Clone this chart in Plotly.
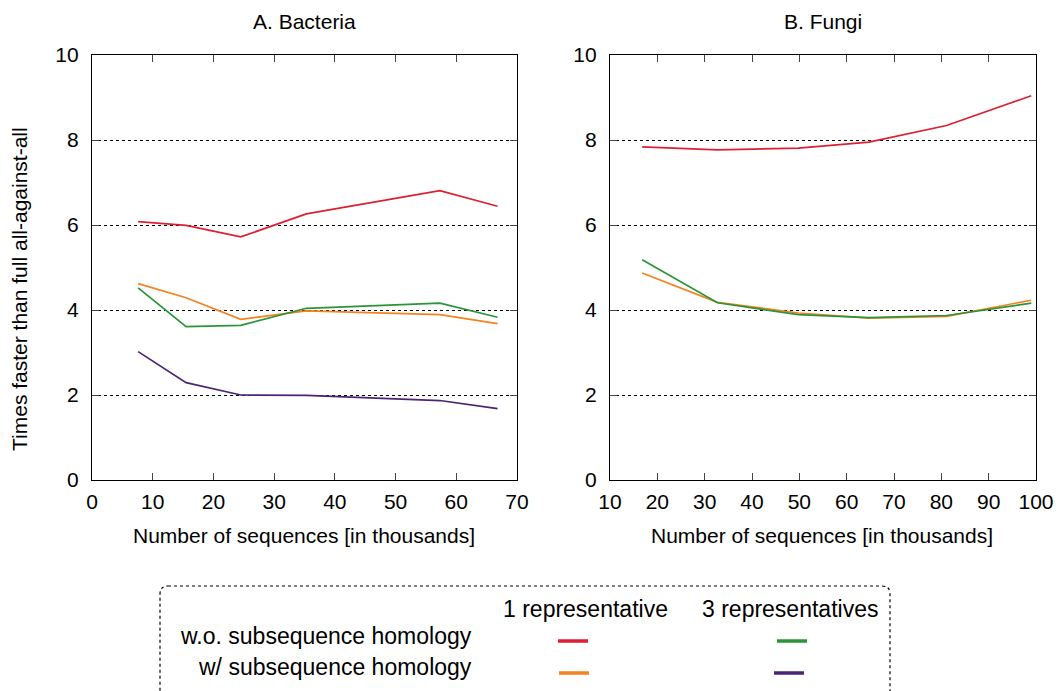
import plotly.graph_objects as go

# ---- data ----
bact_x = [7.6, 15.5, 24.5, 35.3, 57.3, 66.8]
bact_wo_1rep = [6.08, 5.99, 5.72, 6.26, 6.81, 6.44]
bact_wo_3rep = [4.52, 3.61, 3.64, 4.04, 4.16, 3.83]
bact_w_1rep = [4.62, 4.29, 3.78, 3.98, 3.89, 3.68]
bact_w_3rep = [3.02, 2.29, 2.00, 1.99, 1.87, 1.68]

fungi_x = [16.8, 32.7, 49.8, 64.7, 81.1, 99.0]
fungi_wo_1rep = [7.84, 7.77, 7.81, 7.95, 8.34, 9.04]
fungi_wo_3rep = [5.18, 4.17, 3.89, 3.82, 3.87, 4.16]
fungi_w_1rep = [4.87, 4.18, 3.93, 3.81, 3.85, 4.23]

panel_titles = ["A. Bacteria", "B. Fungi"]
x_title = "Number of sequences [in thousands]"
y_title = "Times faster than full all-against-all"
col_headers = ["1 representative", "3 representatives"]
row_headers = ["w.o. subsequence homology", "w/ subsequence homology"]

RED = "#dc1f32"
ORANGE = "#f7801f"
GREEN = "#2a9438"
PURPLE = "#4a2574"

FONT = "Liberation Sans, Arial, sans-serif"
FS = 21
LFS = 23
W, H = 1058, 691

fig = go.Figure()

def add(x, y, color, xa, ya):
    fig.add_trace(go.Scatter(x=x, y=y, mode="lines", xaxis=xa, yaxis=ya,
                             line=dict(color=color, width=1.7), showlegend=False,
                             hoverinfo="skip"))

add(bact_x, bact_wo_1rep, RED, "x", "y")
add(bact_x, bact_w_1rep, ORANGE, "x", "y")
add(bact_x, bact_wo_3rep, GREEN, "x", "y")
add(bact_x, bact_w_3rep, PURPLE, "x", "y")
add(fungi_x, fungi_wo_1rep, RED, "x2", "y2")
add(fungi_x, fungi_w_1rep, ORANGE, "x2", "y2")
add(fungi_x, fungi_wo_3rep, GREEN, "x2", "y2")

def px(v):
    return v / W

def py(v):
    return 1 - v / H

ydom = [py(480), py(55)]
axis_common = dict(showline=True, linecolor="black", linewidth=1.2, mirror="ticks",
                   ticks="inside", ticklen=7, tickcolor="#444", tickwidth=1.2,
                   tickfont=dict(family=FONT, size=FS, color="black"),
                   zeroline=False, automargin=False)

fig.update_layout(
    width=W, height=H,
    margin=dict(l=0, r=0, t=0, b=0),
    paper_bgcolor="white", plot_bgcolor="white",
    xaxis=dict(domain=[px(92), px(517)], range=[0, 70], dtick=10, showgrid=False,
               anchor="y", ticklabelstandoff=3, **axis_common),
    yaxis=dict(domain=ydom, range=[0, 10], dtick=2, showgrid=True, gridcolor="black",
               griddash="dot", gridwidth=1, anchor="x", ticklabelstandoff=8,
               **axis_common),
    xaxis2=dict(domain=[px(610), px(1036)], range=[10, 100], dtick=10, showgrid=False,
                anchor="y2", ticklabelstandoff=3, **axis_common),
    yaxis2=dict(domain=ydom, range=[0, 10], dtick=2, showgrid=True, gridcolor="black",
                griddash="dot", gridwidth=1, anchor="x2", ticklabelstandoff=8,
                **axis_common),
)

def txt(x, y, s, size=FS, xanchor="center", angle=0):
    return dict(x=px(x), y=py(y), xref="paper", yref="paper", text=s, showarrow=False,
                xanchor=xanchor, yanchor="middle", textangle=angle,
                font=dict(family=FONT, size=size, color="black"))

ann = [
    txt(304, 22, panel_titles[0]),
    txt(823, 22, panel_titles[1]),
    txt(304, 535, x_title),
    txt(822, 535, x_title),
    txt(20, 289, y_title, angle=-90),
    txt(585, 609, col_headers[0], size=LFS),
    txt(790, 609, col_headers[1], size=LFS),
    txt(474, 636, row_headers[0], size=LFS, xanchor="right"),
    txt(474, 667, row_headers[1], size=LFS, xanchor="right"),
]
fig.update_layout(annotations=ann)

shapes = []
# rounded dotted legend box
x0, x1, y0, y1, r = px(160), px(890), py(586), py(700), 8
path = (f"M {x0 + r/W},{y0} L {x1 - r/W},{y0} Q {x1},{y0} {x1},{y0 - r/H} "
        f"L {x1},{y1} L {x0},{y1} L {x0},{y0 - r/H} Q {x0},{y0} {x0 + r/W},{y0} Z")
shapes.append(dict(type="path", path=path, xref="paper", yref="paper",
                   line=dict(color="black", width=1.2, dash="dot")))
for (cx, cy, c) in [(573, 641, RED), (792, 641, GREEN), (574, 673, ORANGE), (789, 673, PURPLE)]:
    shapes.append(dict(type="line", xref="paper", yref="paper",
                       x0=px(cx - 15), x1=px(cx + 15), y0=py(cy), y1=py(cy),
                       line=dict(color=c, width=3.5)))
fig.update_layout(shapes=shapes)

fig.write_html("out.html", config={"displayModeBar": False},
               post_script="document.body.style.margin='0px';document.body.style.overflow='hidden';")
